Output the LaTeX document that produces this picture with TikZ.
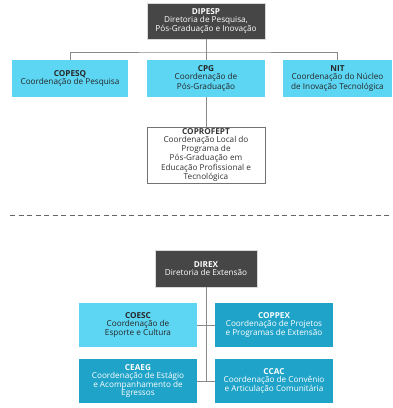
\documentclass[tikz,border=0pt]{standalone}
\usepackage{fontspec}
\setmainfont{Open Sans}
\definecolor{darkbox}{HTML}{464646}
\definecolor{lightcyan}{HTML}{5DD6F4}
\definecolor{teal}{HTML}{1FA3C8}
\definecolor{linegray}{HTML}{8A8A8A}
\begin{document}
\begin{tikzpicture}[x=1pt,y=-1pt,
  box/.style={rectangle, inner sep=1pt, align=center,
    minimum width=#1, font=\fontsize{8.2}{7.9}\selectfont},
  dark/.style={box=#1, fill=darkbox, text=white, draw=white!85!black, line width=0.6pt},
  light/.style={box=#1, fill=lightcyan, text=black!85},
  tealbox/.style={box=#1, fill=teal, text=white},
  plain/.style={box=#1, fill=white, draw=black!55, line width=0.6pt, text=black!80},
  conn/.style={draw=linegray, line width=0.6pt}]
\useasboundingbox (0,0) rectangle (393,408);

\node[dark=118, minimum height=36] (dipesp) at (206,21) {\textbf{DIPESP}\\Diretoria de Pesquisa,\\Pós-Graduação e Inovação};
\node[light=116, minimum height=37] (copesq) at (70,78.5) {\textbf{COPESQ}\\Coordenação de Pesquisa};
\node[light=118, minimum height=37] (cpg) at (206,78.5) {\textbf{CPG}\\Coordenação de\\Pós-Graduação};
\node[light=109, minimum height=37] (nit) at (337.5,78.5) {\textbf{NIT}\\Coordenação do Núcleo\\de Inovação Tecnológica};
\node[plain=118, minimum height=56] (coprofept) at (206,155) {\textbf{COPROFEPT}\\Coordenação Local do\\Programa de\\Pós-Graduação em\\Educação Profissional e\\Tecnológica};

\coordinate (bus) at (206,52);
\draw[conn] (dipesp.south) -- (bus);
\draw[conn] (copesq.north) |- (bus) -| (nit.north);
\draw[conn] (bus) -- (cpg.north);
\draw[conn] (cpg.south) -- (coprofept.north);

\coordinate (dl) at (10,215);
\coordinate (dr) at (391,215);
\draw[draw=black!60, line width=0.6pt, dash pattern=on 5pt off 3.5pt] (dl) -- (dr);

\node[dark=102, minimum height=37] (direx) at (206,268.5) {\textbf{DIREX}\\Diretoria de Extensão};
\node[light=118, minimum height=44] (coesc) at (138,325) {\textbf{COESC}\\Coordenação de\\Esporte e Cultura};
\node[tealbox=118, minimum height=44] (coppex) at (274,325) {\textbf{COPPEX}\\Coordenação de Projetos\\e Programas de Extensão};
\node[tealbox=118, minimum height=44] (ceaeg) at (138,381) {\textbf{CEAEG}\\Coordenação de Estágio\\e Acompanhamento de\\Egressos};
\node[tealbox=118, minimum height=44] (ccac) at (274,381) {\textbf{CCAC}\\Coordenação de Convênio\\e Articulação Comunitária};

\coordinate (vend) at (206,381);
\draw[conn] (direx.south) -- (vend);
\draw[conn] (coesc.east) -- (coppex.west);
\draw[conn] (ceaeg.east) -- (ccac.west);
\end{tikzpicture}
\end{document}
